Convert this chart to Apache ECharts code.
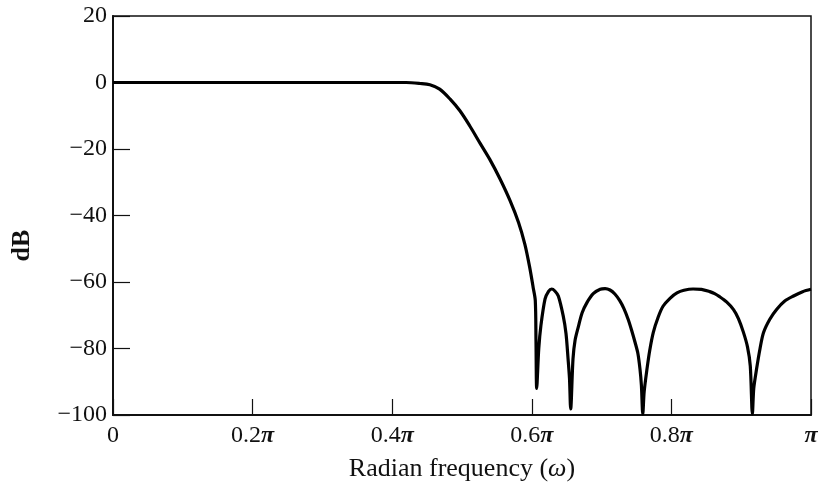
<!DOCTYPE html>
<html>
<head>
<meta charset="utf-8">
<script src="https://cdn.jsdelivr.net/npm/echarts@6/dist/echarts.min.js"></script>
<style>html,body{margin:0;padding:0;background:#fff;}#c{width:821px;height:483px;}</style>
</head>
<body>
<div id="c"></div>
<script>
// frequency in units of pi
var freq = [0, 0.2, 0.4, 0.42, 0.440, 0.454, 0.468, 0.483, 0.497, 0.511, 0.526, 0.540, 0.554, 0.569, 0.581, 0.590, 0.597, 0.602, 0.605, 0.606, 0.607,
  0.610, 0.613, 0.619, 0.624, 0.6285, 0.633, 0.638, 0.645, 0.649, 0.652, 0.654, 0.6557,
  0.659, 0.662, 0.667, 0.672, 0.679, 0.688, 0.698, 0.705, 0.712, 0.719, 0.726, 0.732, 0.738, 0.743, 0.748, 0.752, 0.755, 0.757, 0.759,
  0.761, 0.765, 0.769, 0.774, 0.781, 0.788, 0.798, 0.808, 0.818, 0.831, 0.843, 0.855, 0.862, 0.869, 0.879, 0.889, 0.896, 0.903, 0.909, 0.913, 0.916,
  0.918, 0.922, 0.927, 0.932, 0.941, 0.951, 0.962, 0.975, 0.988, 1.0];
var magDB = [0, 0, 0, 0, -0.3, -0.7, -2.0, -5.0, -8.5, -13.0, -18.3, -23.2, -28.8, -35.6, -42.1, -48.6, -55.6, -61.7, -65.6, -77.7, -92,
  -80, -73.2, -65.1, -62.8, -62.1, -62.7, -64.2, -70.2, -75.5, -83.2, -89, -98.2,
  -83.2, -77.5, -73.2, -69.3, -66.2, -63.5, -62.2, -62.0, -62.4, -63.6, -65.6, -68.0, -71.2, -74.5, -78.2, -81.5, -86.2, -91, -99.7,
  -93, -86.2, -80.5, -75.2, -70.6, -67.3, -64.9, -63.3, -62.5, -62.1, -62.2, -62.9, -63.5, -64.4, -66.0, -68.3, -71.0, -75.0, -79.5, -85.2, -99.7,
  -92, -86.2, -80, -75.2, -71.2, -68.2, -65.8, -64.2, -62.9, -62.2];
var xTicks = [0, 0.2, 0.4, 0.6, 0.8, 1];
var xTickLabels = ['0', '0.2{p|\u03c0}', '0.4{p|\u03c0}', '0.6{p|\u03c0}', '0.8{p|\u03c0}', '{p|\u03c0}'];
var xName = '{n|Radian frequency (}{w|\u03c9}{n|)}';

var data = freq.map(function (f, i) { return [f, magDB[i]]; });
var font = 'Liberation Serif';
var chart = echarts.init(document.getElementById('c'));
chart.setOption({
  backgroundColor: '#fff',
  animation: false,
  grid: { left: 113, right: 10, top: 16, bottom: 68, containLabel: false, outerBoundsMode: 'none', show: true, borderColor: '#111', borderWidth: 1.5, backgroundColor: 'transparent' },
  xAxis: {
    type: 'value', min: 0, max: 1, interval: 0.2,
    name: xName, nameLocation: 'middle', nameGap: 41,
    nameTextStyle: {
      fontFamily: font, fontSize: 26, color: '#111',
      rich: {
        n: { fontFamily: font, fontSize: 26, color: '#111' },
        w: { fontFamily: font, fontSize: 26, fontStyle: 'italic', color: '#111' }
      }
    },
    axisLine: { onZero: false, lineStyle: { color: '#111', width: 2 } },
    axisTick: { inside: true, length: 16, lineStyle: { color: '#111', width: 1.2 } },
    axisLabel: {
      margin: 9, fontFamily: font, fontSize: 24, color: '#111',
      rich: { p: { fontFamily: font, fontSize: 24, fontStyle: 'italic', fontWeight: 'bold', color: '#111' } },
      formatter: function (v) {
        var i = xTicks.findIndex(function (t) { return Math.abs(t - v) < 1e-6; });
        return i >= 0 ? xTickLabels[i] : '';
      }
    },
    splitLine: { show: false }
  },
  yAxis: {
    type: 'value', min: -100, max: 20, interval: 20,
    name: 'dB', nameLocation: 'middle', nameGap: 78,
    nameTextStyle: { fontFamily: font, fontSize: 26, color: '#111', fontWeight: 'bold', padding: [0, 60, 0, 0] },
    axisLine: { lineStyle: { color: '#111', width: 2 } },
    axisTick: { inside: true, length: 17, lineStyle: { color: '#111', width: 1.2 } },
    axisLabel: {
      margin: 6, fontFamily: font, fontSize: 24, color: '#111',
      formatter: function (v) { return String(v).replace('-', '\u2212'); }
    },
    splitLine: { show: false }
  },
  series: [{
    type: 'line', data: data, showSymbol: false, smooth: 0.3,
    lineStyle: { color: '#000', width: 3.2 }, clip: true
  }]
});
</script>
</body>
</html>
